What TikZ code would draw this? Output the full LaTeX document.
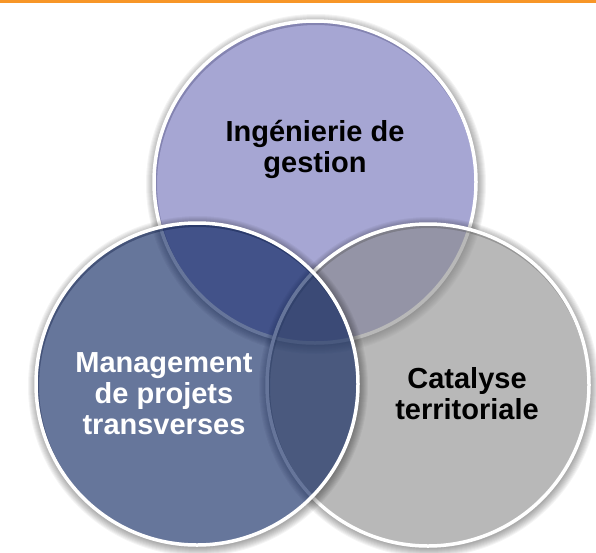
\documentclass[tikz,border=0pt]{standalone}
\usepackage{fontspec}
\setmainfont{Liberation Sans}
\usepackage{tikz}
\usetikzlibrary{calc}
\definecolor{topLilac}{RGB}{107,107,182}
\definecolor{leftNavy}{RGB}{0,26,88}
\definecolor{rightGray}{RGB}{137,137,137}
\definecolor{lineOrange}{RGB}{247,150,40}

\tikzset{
  venn/.style={fill opacity=0.6, draw=white, draw opacity=1, line width=3.5pt},
  vennText/.style={font=\fontsize{29}{31}\selectfont\bfseries, align=center, inner sep=0pt},
}

\begin{document}
\begin{tikzpicture}[x=1pt, y=-1pt]
    \useasboundingbox (0,0) rectangle (596,552);
    \def\rad{161}

    \coordinate (T) at (315,182); % top circle
    \coordinate (L) at (197,384); % left circle
    \coordinate (R) at (428,385); % right circle

    % Orange rule
    \fill[lineOrange] (0,0) rectangle (596,2.5);

    % Circles, each one with its soft shadow
    \foreach \c/\col in {T/topLilac, R/rightGray, L/leftNavy} {
        \foreach \k in {1,...,9}
            \fill[black, opacity=0.045, even odd rule]
                ($(\c)+(1,2)$) circle ({\rad pt+\k pt}) circle ({\rad pt-2pt});
        \filldraw[venn, fill=\col] (\c) circle (\rad pt);
    }

    % Labels
    \node[vennText] (gestion) at (315,149) {Ingénierie de\\gestion};
    \node[vennText, white] (projets) at (164,394) {Management\\de projets\\transverses};
    \node[vennText] (catalyse) at (467,394) {Catalyse\\territoriale};
\end{tikzpicture}
\end{document}
